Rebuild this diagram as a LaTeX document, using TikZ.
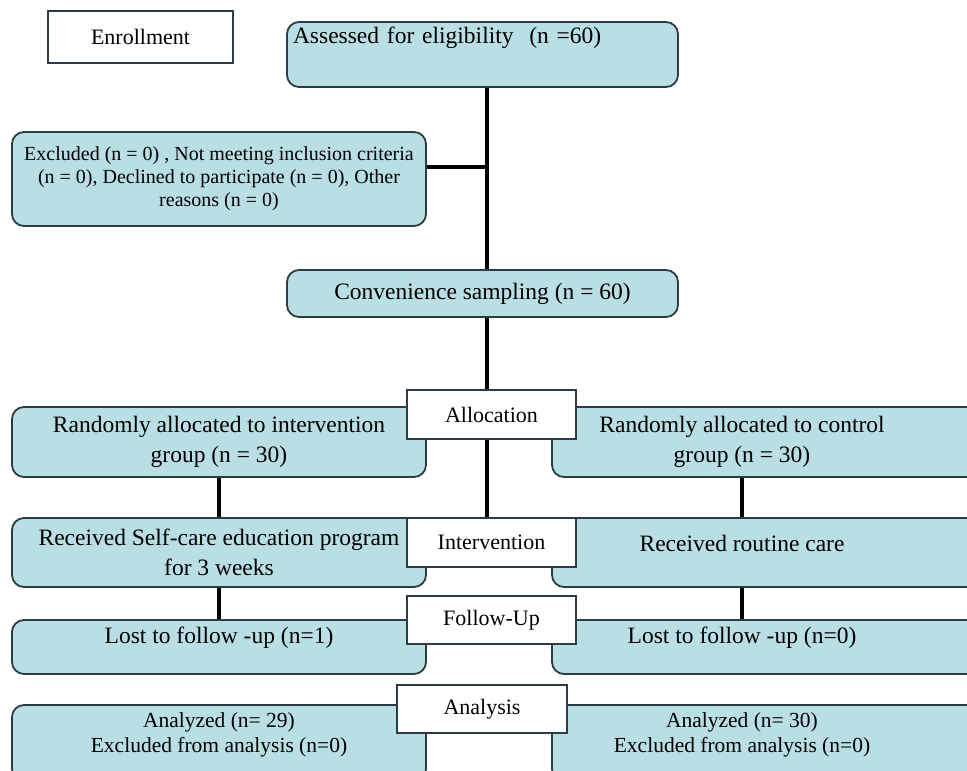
\documentclass[tikz,border=0pt]{standalone}
\usepackage{fontspec}
\setmainfont{Liberation Serif}
\usetikzlibrary{positioning}
\definecolor{boxfill}{RGB}{185,223,229}
\definecolor{boxline}{RGB}{45,60,66}
\tikzset{
  stage/.style={draw=boxline, line width=1.8pt, fill=white, inner sep=0pt,
    font=\fontsize{22}{26}\selectfont},
  phase/.style={draw=boxline, line width=1.8pt, fill=boxfill, rounded corners=12pt,
    inner sep=0pt, align=center, font=\fontsize{23.5}{30}\selectfont},
  rtext/.style={align=center, xshift=-30pt, font=\fontsize{23.5}{30}\selectfont},
  link/.style={line width=4.5pt}
}

\begin{document}
\begin{tikzpicture}[x=1pt,y=-1pt]
    \clip (0,0) rectangle (967,771);
    % enrollment
    \node[stage, minimum width=185, minimum height=52] (enrol) at (140.5,37) {Enrollment};
    \node[phase, minimum width=391, minimum height=65, text width=379, align=left] (assess) at (482.5,54.5)
        {Assessed for eligibility~~(n =60)\\ \strut};
    \node[phase, minimum width=414, minimum height=94, font=\fontsize{20}{23}\selectfont] (excl) at (219,179)
        {Excluded (n = 0) , Not meeting inclusion criteria\\(n = 0), Declined to participate (n = 0), Other\\reasons (n = 0)};
    \node[phase, minimum width=391, minimum height=47] (conv) at (482.5,293.5) {Convenience sampling (n = 60)};
    % two arms
    \node[phase, minimum width=414, minimum height=70] (randI) at (219,442)
        {Randomly allocated to intervention\\group (n = 30)};
    \node[phase, minimum width=440, minimum height=70,
        label={[rtext]center:{Randomly allocated to control\\group (n = 30)}}] (randC) at (772,442) {};
    \node[phase, minimum width=414, minimum height=69] (recvI) at (219,552.5)
        {Received Self-care education program\\for 3 weeks};
    \node[phase, minimum width=440, minimum height=69,
        label={[rtext, yshift=9.5pt]center:{Received routine care}}] (recvC) at (772,552.5) {};
    \node[phase, minimum width=414, minimum height=54] (lostI) at (219,647)
        {\raisebox{9pt}[\height][\depth]{Lost to follow -up (n=1)}};
    \node[phase, minimum width=440, minimum height=54,
        label={[rtext, yshift=9pt]center:{Lost to follow -up (n=0)}}] (lostC) at (772,647) {};
    \node[phase, minimum width=414, minimum height=76,
        label={[rtext, xshift=30pt, yshift=8pt, font=\fontsize{21.5}{25}\selectfont]center:{Analyzed (n= 29)\\Excluded from analysis (n=0)}}] (analI) at (219,743) {};
    \node[phase, minimum width=440, minimum height=76,
        label={[rtext, yshift=8pt, font=\fontsize{21.5}{25}\selectfont]center:{Analyzed (n= 30)\\Excluded from analysis (n=0)}}] (analC) at (772,743) {};
    % stage labels
    \node[stage, minimum width=169, minimum height=49] (alloc) at (491.5,414.5) {Allocation};
    \node[stage, minimum width=169, minimum height=49] (interv) at (491.5,542.5) {Intervention};
    \node[stage, minimum width=169, minimum height=48] (follow) at (491.5,620) {Follow-Up};
    \node[stage, minimum width=170, minimum height=48] (anal) at (482,709) {Analysis};
    % connectors
    \coordinate (trunk) at (487,0);
    \coordinate (ctrl) at (742,0);
    \coordinate (xj) at ([yshift=12pt]excl.east);
    \draw[link] (assess.south -| trunk) -- (conv.north -| trunk);
    \draw[link] (xj) -- (xj -| trunk);
    \draw[link] (conv.south -| trunk) -- (alloc.north -| trunk);
    \draw[link] (alloc.south -| trunk) -- (interv.north -| trunk);
    \draw[link] (randI.south) -- (recvI.north);
    \draw[link] (recvI.south) -- (lostI.north);
    \draw[link] (randC.south -| ctrl) -- (recvC.north -| ctrl);
    \draw[link] (recvC.south -| ctrl) -- (lostC.north -| ctrl);
\end{tikzpicture}
\end{document}
